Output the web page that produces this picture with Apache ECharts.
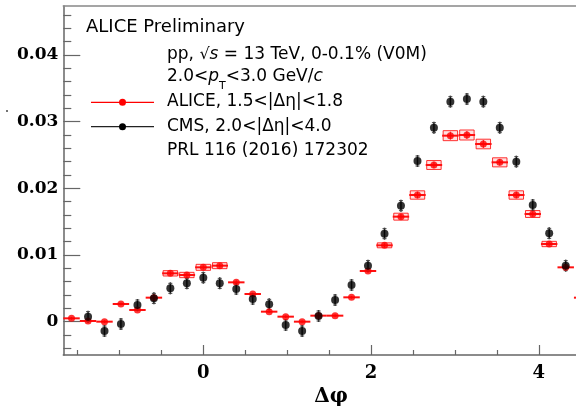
<!DOCTYPE html>
<html><head><meta charset="utf-8">
<script src="https://cdn.jsdelivr.net/npm/echarts@6/dist/echarts.min.js"></script>
<style>html,body{margin:0;padding:0;background:#fff}#c{width:576px;height:406px}</style>
</head><body><div id="c"></div>
<script>
// ALICE, 1.5<|Δη|<1.8  (bin centres in Δφ)
const aliceX = [-1.571,-1.374,-1.178,-0.982,-0.785,-0.589,-0.393,-0.196,0,0.196,0.393,0.589,0.785,0.982,1.178,1.374,1.571,1.767,1.963,2.160,2.356,2.553,2.749,2.945,3.142,3.338,3.534,3.731,3.927,4.123,4.320,4.516];
const aliceY = [0.0005,0.0001,0.0000,0.00265,0.00175,0.0036,0.00725,0.0070,0.00815,0.0084,0.0059,0.00415,0.0015,0.00075,0.0000,0.0009,0.0009,0.00365,0.0076,0.01145,0.01575,0.0190,0.0235,0.0279,0.0280,0.02665,0.0239,0.0190,0.01615,0.01165,0.00815,0.0036];
const aliceSys = [0.0002,0.0002,0.0002,0.0002,0.0002,0.0002,0.0004,0.0004,0.00045,0.00045,0.0003,0.0002,0.0002,0.0002,0.0002,0.0002,0.0002,0.0002,0.0003,0.00037,0.00052,0.00063,0.00067,0.00075,0.00075,0.00072,0.00068,0.00063,0.00052,0.0004,0.0003,0.0002];
const aliceStat = [0.0002,0.0002,0.0002,0.0002,0.0002,0.0002,0.0003,0.0003,0.0003,0.0003,0.0003,0.0002,0.0002,0.0002,0.0002,0.0002,0.0002,0.0002,0.0003,0.0003,0.0004,0.0005,0.0005,0.0006,0.0006,0.0006,0.0005,0.0005,0.0004,0.0003,0.0003,0.0002];
// CMS, 2.0<|Δη|<4.0
const cmsX = [-1.374,-1.178,-0.982,-0.785,-0.589,-0.393,-0.196,0,0.196,0.393,0.589,0.785,0.982,1.178,1.374,1.571,1.767,1.963,2.160,2.356,2.553,2.749,2.945,3.142,3.338,3.534,3.731,3.927,4.123,4.320];
const cmsY = [0.00075,-0.0014,-0.00035,0.0025,0.0035,0.0050,0.00575,0.0066,0.00575,0.0049,0.0034,0.0026,-0.0005,-0.0014,0.00085,0.00325,0.0055,0.0084,0.0132,0.0174,0.0241,0.0291,0.0330,0.0334,0.0330,0.0291,0.0240,0.0175,0.01325,0.0084];
const cmsErr = [0.0009,0.0009,0.0009,0.0009,0.0009,0.0009,0.0009,0.0009,0.0009,0.0009,0.0009,0.0009,0.0009,0.0009,0.0009,0.0009,0.0009,0.0009,0.0009,0.0009,0.0009,0.0009,0.0009,0.0009,0.0009,0.0009,0.0009,0.0009,0.0009,0.0009];
const binHalfWidth = 0.098;
// axis ticks
const xMajorTicks = [0, 2, 4];
const xMinorTicks = [-1.5,-1,-0.5,0.5,1,1.5,2.5,3,3.5,4.5];
const yMajorTicks = [0, 0.01, 0.02, 0.03, 0.04];
const yMinorTicks = [-0.004,-0.002,0.002,0.004,0.006,0.008,0.012,0.014,0.016,0.018,0.022,0.024,0.026,0.028,0.032,0.034,0.036,0.038,0.042,0.044,0.046];
const xRange = [-1.669, 4.712];
const yRange = [-0.005, 0.04735];

const chart = echarts.init(document.getElementById('c'), null, {renderer:'canvas'});
const frameColor = '#666';
const serifBold = {fontFamily:'DejaVu Serif', fontWeight:'bold', color:'#000'};
const sans = 'DejaVu Sans';

function xAxisCfg(ticks, len, major, pos){
  return {
    type:'value', min:xRange[0], max:xRange[1], position:pos || 'bottom',
    axisLine:{show:major || pos === 'top', onZero:false, lineStyle:{color: pos === 'top' ? '#888' : frameColor, width:1.5}},
    axisTick:{show:!!ticks, inside:true, length:len, customValues:ticks || [], lineStyle:{color:frameColor, width:1.2}},
    axisLabel:major ? Object.assign({show:true, customValues:ticks, fontSize:18, margin:9}, serifBold) : {show:false},
    splitLine:{show:false},
    name: major ? 'Δφ' : '', nameLocation:'middle', nameGap:30,
    nameTextStyle:Object.assign({fontSize:20}, serifBold)
  };
}
function yAxisCfg(ticks, len, major){
  return {
    type:'value', min:yRange[0], max:yRange[1], position:'left',
    axisLine:{show:major, onZero:false, lineStyle:{color:frameColor, width:1.5}},
    axisTick:{show:true, inside:true, length:len, customValues:ticks, lineStyle:{color:frameColor, width:1.2}},
    axisLabel:major ? Object.assign({show:true, customValues:ticks, fontSize:17, margin:5,
      formatter:v => v === 0 ? '0' : v.toFixed(2)}, serifBold) : {show:false},
    splitLine:{show:false}
  };
}

const aliceData = aliceX.map((x,i)=>[x, aliceY[i], aliceSys[i], aliceStat[i]]);
const cmsData = cmsX.map((x,i)=>[x, cmsY[i], cmsErr[i]]);

const option = {
  backgroundColor:'#fff',
  animation:false,
  grid:{left:63.3, top:6, right:-22.6, bottom:51, show:false, outerBoundsMode:'none', containLabel:false},
  xAxis:[xAxisCfg(xMajorTicks,10,true), xAxisCfg(xMinorTicks,5,false), xAxisCfg(null,0,false,'top')],
  yAxis:[yAxisCfg(yMajorTicks,17,true), yAxisCfg(yMinorTicks,8,false)],
  series:[
    {
      name:'ALICE, 1.5<|Δη|<1.8 (errors)', type:'custom', xAxisIndex:0, yAxisIndex:0,
      data:aliceData, encode:{x:0, y:1}, z:2,
      renderItem:(params, api)=>{
        const x = api.value(0), y = api.value(1), sys = api.value(2), st = api.value(3);
        const tl = api.coord([x-binHalfWidth, y+sys]);
        const br = api.coord([x+binHalfWidth, y-sys]);
        const c = api.coord([x, y]);
        const sTop = api.coord([x, y+st]);
        const sBot = api.coord([x, y-st]);
        const h = br[1]-tl[1];
        const children = [];
        if (h > 4) {
          children.push({type:'rect', shape:{x:tl[0]+1, y:tl[1], width:br[0]-tl[0]-2, height:h},
            style:{fill:'rgba(255,0,0,0.12)', stroke:'rgba(255,0,0,0.8)', lineWidth:1}});
        }
        children.push({type:'line', shape:{x1:tl[0], y1:c[1], x2:br[0], y2:c[1]},
          style:{stroke:'#ff1010', lineWidth:2}});
        children.push({type:'line', shape:{x1:c[0], y1:sTop[1], x2:c[0], y2:sBot[1]},
          style:{stroke:'#ff1010', lineWidth:1}});
        return {type:'group', children};
      }
    },
    {
      name:'CMS, 2.0<|Δη|<4.0 (errors)', type:'custom', xAxisIndex:0, yAxisIndex:0,
      data:cmsData, encode:{x:0, y:1}, z:3,
      renderItem:(params, api)=>{
        const x = api.value(0), y = api.value(1), e = api.value(2);
        const t = api.coord([x, y+e]);
        const b = api.coord([x, y-e]);
        return {type:'group', children:[
          {type:'line', shape:{x1:t[0], y1:t[1], x2:b[0], y2:b[1]}, style:{stroke:'#222', lineWidth:1.5}},
          {type:'line', shape:{x1:t[0]-2, y1:t[1]+1, x2:t[0]+2, y2:t[1]+1}, style:{stroke:'#444', lineWidth:1}},
          {type:'line', shape:{x1:b[0]-2, y1:b[1]-1, x2:b[0]+2, y2:b[1]-1}, style:{stroke:'#444', lineWidth:1}}
        ]};
      }
    },
    {
      name:'ALICE, 1.5<|Δη|<1.8', type:'scatter', xAxisIndex:0, yAxisIndex:0,
      data:aliceData.map(d=>[d[0], d[1]]), symbol:'circle', symbolSize:7,
      itemStyle:{color:'#ff0000'}, z:4
    },
    {
      name:'CMS, 2.0<|Δη|<4.0', type:'scatter', xAxisIndex:0, yAxisIndex:0,
      data:cmsData.map(d=>[d[0], d[1]]), symbol:'circle', symbolSize:8,
      itemStyle:{color:'#000000'}, z:5
    }
  ],
  graphic:[
    {type:'circle', shape:{cx:7, cy:111, r:1}, style:{fill:'#444'}},
    {type:'text', x:86, y:27, style:{text:'ALICE Preliminary', fontFamily:sans, fontSize:18, fill:'#000', verticalAlign:'middle', align:'left'}},
    {type:'text', x:167, y:55, style:{text:'pp, {r|√}{i|s} = 13 TeV, 0-0.1% (V0M)', fontFamily:sans, fontSize:17, fill:'#000', verticalAlign:'middle', align:'left',
      rich:{r:{fontFamily:sans, fontSize:16}, i:{fontFamily:sans, fontSize:17, fontStyle:'italic'}}}},
    {type:'text', x:167, y:77, style:{text:'2.0<{i|p}{sub|T}<3.0 GeV/{i|c}', fontFamily:sans, fontSize:17, fill:'#000', verticalAlign:'middle', align:'left',
      rich:{i:{fontFamily:sans, fontSize:17, fontStyle:'italic'}, sub:{fontFamily:sans, fontSize:11, lineHeight:29, verticalAlign:'bottom'}}}},
    {type:'line', shape:{x1:91, y1:102.3, x2:154, y2:102.3}, style:{stroke:'#ff0000', lineWidth:1.3}},
    {type:'circle', shape:{cx:122.5, cy:102.3, r:3.5}, style:{fill:'#ff0000'}},
    {type:'text', x:167, y:102, style:{text:'ALICE, 1.5<|Δη|<1.8', fontFamily:sans, fontSize:17, fill:'#000', verticalAlign:'middle', align:'left'}},
    {type:'line', shape:{x1:91, y1:126.7, x2:154, y2:126.7}, style:{stroke:'#222', lineWidth:1.3}},
    {type:'circle', shape:{cx:122.5, cy:126.7, r:3.5}, style:{fill:'#000'}},
    {type:'text', x:167, y:127, style:{text:'CMS, 2.0<|Δη|<4.0', fontFamily:sans, fontSize:17, fill:'#000', verticalAlign:'middle', align:'left'}},
    {type:'text', x:167, y:151, style:{text:'PRL 116 (2016) 172302', fontFamily:sans, fontSize:17, fill:'#000', verticalAlign:'middle', align:'left'}}
  ]
};
chart.setOption(option);
</script>
</body></html>
